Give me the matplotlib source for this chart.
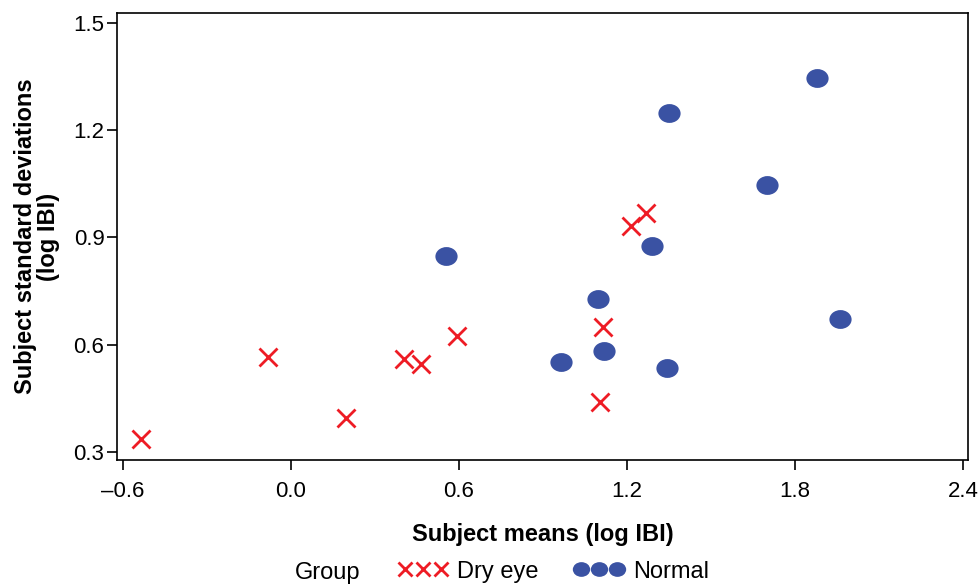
import numpy as np
import matplotlib.pyplot as plt
from matplotlib.path import Path
from matplotlib.lines import Line2D

plt.rcParams['font.family'] = ['Liberation Sans', 'DejaVu Sans']

# dry eye group
dry_mean = [-0.536, -0.081, 0.196, 0.404, 0.464, 0.594, 1.104, 1.116, 1.216, 1.267]
dry_sd = [0.337, 0.565, 0.396, 0.560, 0.546, 0.624, 0.440, 0.650, 0.932, 0.967]

# normal group
norm_mean = [0.554, 0.964, 1.097, 1.119, 1.290, 1.342, 1.349, 1.700, 1.879, 1.962]
norm_sd = [0.848, 0.552, 0.727, 0.582, 0.875, 0.535, 1.247, 1.045, 1.345, 0.672]

xticks = [-0.6, 0.0, 0.6, 1.2, 1.8, 2.4]
yticks = [0.3, 0.6, 0.9, 1.2, 1.5]

red = '#ee1c25'
blue = '#3a52a3'

# slightly wide ellipse for the normal group
circ = Path.unit_circle()
ellipse = Path(circ.vertices * np.array([1.18, 1.0]), circ.codes)

fig = plt.figure(figsize=(9.79, 5.88), dpi=100)
ax = fig.add_axes([0.1195, 0.2177, 0.8693, 0.7602])

ax.plot(dry_mean, dry_sd, linestyle='none', marker='x', color=red,
        markersize=13, markeredgewidth=2)
ax.plot(norm_mean, norm_sd, linestyle='none', marker=ellipse, color=blue,
        markersize=16, markeredgewidth=0)

ax.set_xlim(-0.621, 2.418)
ax.set_ylim(0.278, 1.527)
ax.set_xticks(xticks)
ax.set_xticklabels(['%.1f' % v if v >= 0 else '\u2013%.1f' % -v for v in xticks])
ax.set_yticks(yticks)
ax.set_yticklabels(['%.1f' % v for v in yticks])
ax.tick_params(direction='out', length=7, width=1.2, labelsize=16)
ax.tick_params(axis='x', pad=8)
ax.tick_params(axis='y', pad=2)
for s in ax.spines.values():
    s.set_linewidth(1.2)

ax.set_xlabel('Subject means (log IBI)', fontsize=17, fontweight='bold', labelpad=15)
ax.set_ylabel('Subject standard deviations\n(log IBI)', fontsize=17,
              fontweight='bold', labelpad=10, linespacing=1.0)

h_dry = Line2D([], [], linestyle='none', marker='x', color=red,
               markersize=10.5, markeredgewidth=2)
h_norm = Line2D([], [], linestyle='none', marker=ellipse, color=blue,
                markersize=12.5, markeredgewidth=0)
fig.text(0.301, 0.006, 'Group', fontsize=17, va='bottom')
fig.legend([h_dry, h_norm], ['Dry eye', 'Normal'], ncol=2, numpoints=3,
           frameon=False, fontsize=17, loc='lower left',
           bbox_to_anchor=(0.385, -0.027), handlelength=2.1, handletextpad=0.4,
           columnspacing=1.5, markerscale=1.0)

fig.savefig('out.png', dpi=100)
